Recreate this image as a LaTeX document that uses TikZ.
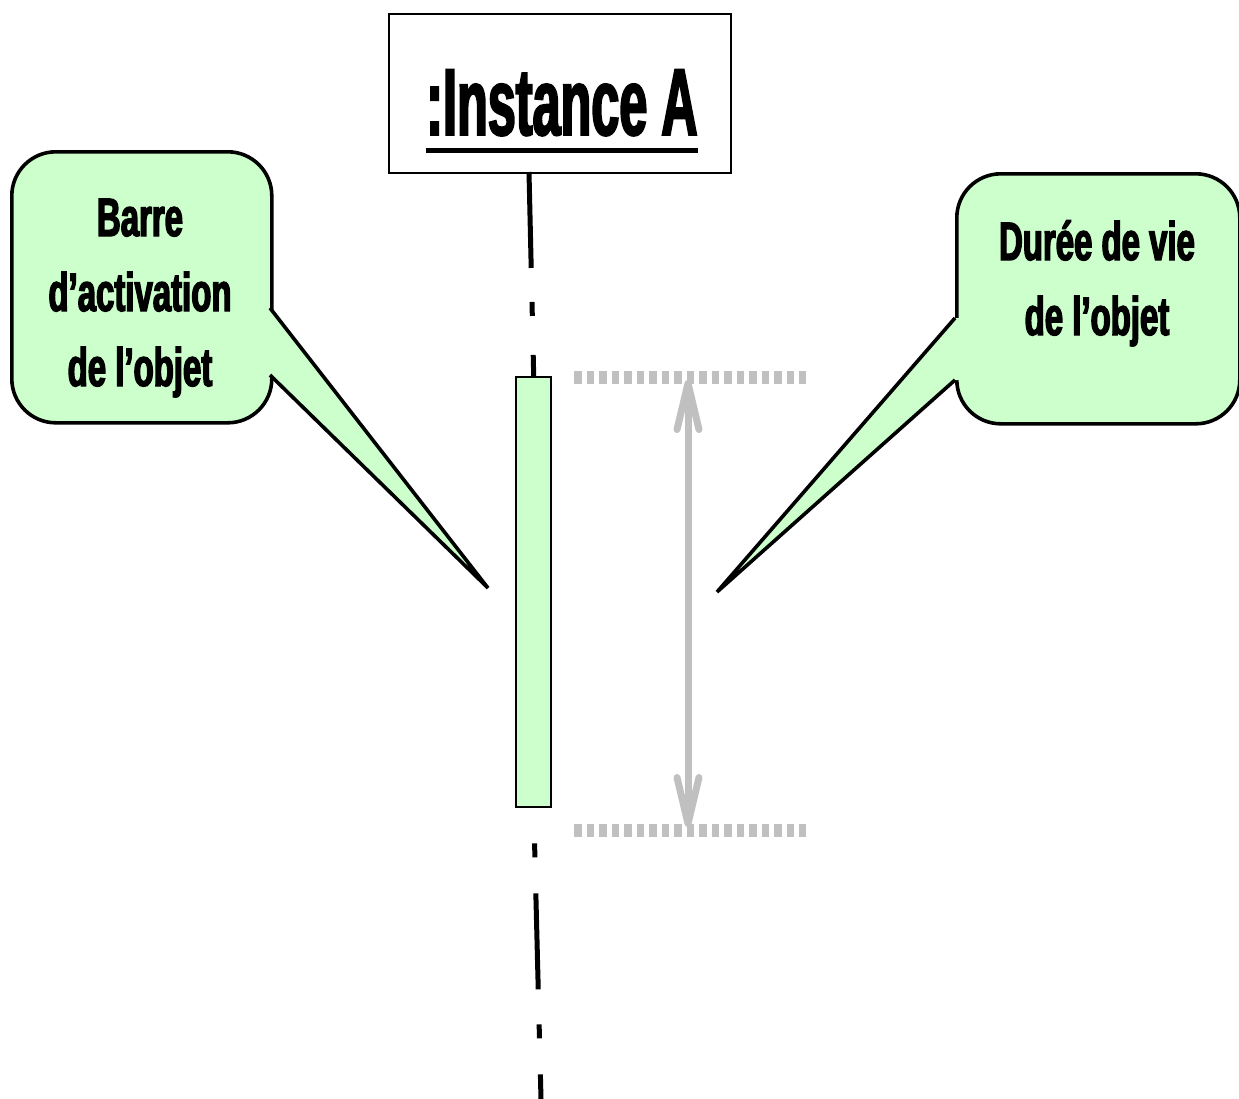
\documentclass[tikz,border=0pt]{standalone}
\usepackage{fontspec}
\newfontfamily\titlefont{Liberation Sans}[FakeStretch=0.53, FakeBold=2]
\newfontfamily\callfont{Liberation Sans}[FakeStretch=0.61, FakeBold=2.5]
\usetikzlibrary{arrows.meta}
\definecolor{callgreen}{HTML}{CCFFCC}
\definecolor{lgray}{HTML}{C0C0C0}
\tikzset{
  objbox/.style={draw, fill=white, line width=1.2pt, inner sep=0pt},
  titletext/.style={inner sep=0pt, font=\titlefont\bfseries\fontsize{47.5}{47.5}\selectfont},
  actbar/.style={draw, fill=callgreen, line width=1.2pt, inner sep=0pt},
  lifeline/.style={line width=2.5pt},
  callbox/.style={draw, fill=callgreen, line width=1.8pt, rounded corners=22pt, inner sep=0pt},
  calltext/.style={inner sep=0pt, align=center, font=\callfont\bfseries\fontsize{27}{37.5}\selectfont},
  pointerfill/.style={fill=callgreen},
  pointerline/.style={draw, line width=1.8pt, line join=miter},
  grayrule/.style={draw=lgray, line width=6.5pt, dash pattern=on 3.85pt off 2.4pt},
  grayarrow/.style={draw=lgray, line width=3.5pt, {Straight Barb[length=23pt,width=11pt,round]}-{Straight Barb[length=23pt,width=11pt,round]}}
}
\begin{document}
\begin{tikzpicture}[x=0.5pt, y=-0.5pt]
\useasboundingbox (0,0) rectangle (1239,1099);
\fill[white] (0,0) rectangle (1239,1099);

% object box
\node[objbox, minimum width=171pt, minimum height=79.5pt, anchor=north west] (inst) at (388,13) {};
\node[titletext, anchor=base] (ttl) at (562,135) {:Instance A};
\draw[line width=2.5pt] ([yshift=-7.5pt]ttl.base west) -- ([yshift=-7.5pt]ttl.base east);

% activation bar
\node[actbar, minimum width=17.5pt, minimum height=215pt, anchor=north west] (bar) at (515,376) {};

% lifeline
\coordinate (lt) at (529,172);
\coordinate (lb) at (541,1099);
\draw[lifeline, dash pattern=on 48pt off 17pt on 7pt off 19.5pt] (lt) -- (bar.north);
\draw[lifeline, dash pattern=on 48pt off 17.5pt on 7pt off 18pt, dash phase=48pt] (bar.south) -- (lb);

% duration marks
\coordinate (gt1) at (574,377); \coordinate (gt2) at (806,377);
\coordinate (gb1) at (574,830); \coordinate (gb2) at (806,830);
\draw[grayrule] (gt1) -- (gt2);
\draw[grayrule] (gb1) -- (gb2);
\coordinate (at) at (688,380);
\coordinate (ab) at (688,827);
\draw[grayarrow] (at) -- (ab);

% left callout
\node[callbox, minimum width=130pt, minimum height=135.5pt, anchor=north west] (cl) at (10,150) {};
\coordinate (la) at (270,308);
\coordinate (lbb) at (270,375);
\coordinate (ltip) at (488,588);
\fill[pointerfill] (264,308) -- (la) -- (ltip) -- (lbb) -- (264,375) -- cycle;
\draw[pointerline] (la) -- (ltip) -- (lbb);
\node[calltext, anchor=base] (clt) at (140,386) {Barre\\d’activation\\de l’objet};

% right callout
\node[callbox, minimum width=141.5pt, minimum height=125pt, anchor=north west] (cr) at (955,172) {};
\coordinate (ra) at (955,318);
\coordinate (rb) at (955,380);
\coordinate (rtip) at (717,592);
\fill[pointerfill] (961,318) -- (ra) -- (rtip) -- (rb) -- (961,380) -- cycle;
\draw[pointerline] (ra) -- (rtip) -- (rb);
\node[calltext, anchor=base] (crt) at (1097,335) {Durée de vie\\de l’objet};
\end{tikzpicture}
\end{document}
